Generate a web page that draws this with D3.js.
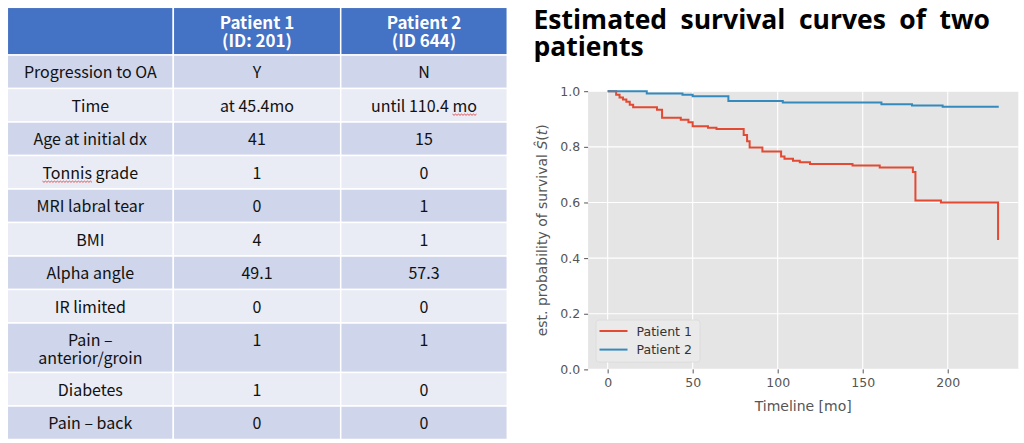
<!DOCTYPE html>
<html>
<head>
<meta charset="utf-8">
<script src="https://cdn.jsdelivr.net/npm/d3@7"></script>
<style>
body { margin: 0; background: #fff; }
svg { display: block; }
</style>
</head>
<body>
<svg id="chart" width="1024" height="443"></svg>
<script>
//Table data
const headers = ["", "Patient 1\n(ID: 201)", "Patient 2\n(ID 644)"];
const rowLabels = ["Progression to OA", "Time", "Age at initial dx", "Tonnis grade", "MRI labral tear",
    "BMI", "Alpha angle", "IR limited", "Pain \u2013\nanterior/groin", "Diabetes", "Pain \u2013 back"];
const patient1Info = ["Y", "at 45.4mo", "41", "1", "0", "4", "49.1", "0", "1", "1", "0"];
const patient2Info = ["N", "until 110.4 mo", "15", "0", "1", "1", "57.3", "0", "1", "0", "0"];

//Survival curves (time in months, estimated survival)
const p1Times = [0, 5, 7, 9, 11, 13, 15, 29, 32, 43, 47.5, 50, 59, 64, 80, 82, 83.5, 91, 102, 104, 109, 113, 119, 144, 160, 179.5, 181, 196, 229.6];
const p1Surv = [1.0, 0.987, 0.977, 0.970, 0.962, 0.951, 0.942, 0.933, 0.905, 0.897, 0.888, 0.874, 0.869, 0.864, 0.843, 0.820, 0.798, 0.783, 0.765, 0.757, 0.750, 0.745, 0.738, 0.733, 0.726, 0.710, 0.607, 0.600, 0.465];
const p2Times = [0, 23, 44, 50, 71, 103, 161, 179, 197, 230];
const p2Surv = [1.0, 0.992, 0.987, 0.982, 0.965, 0.959, 0.953, 0.949, 0.944, 0.944];
const seriesNames = ["Patient 1", "Patient 2"];
const xTicks = [0, 50, 100, 150, 200];
const yTicks = [0, 0.2, 0.4, 0.6, 0.8, 1.0];

const svg = d3.select("#chart");
const tableFont = "'Noto Sans CJK KR', 'Open Sans', sans-serif";
const titleFont = "'Open Sans', Roboto, sans-serif";
const plotFont = "'DejaVu Sans', sans-serif";

//---------- TABLE ----------
let colEdges = [7.3, 173.3, 340.7, 507.3];
let headerTop = 7.3, headerH = 47.7, rowH = 33.5, lineH = 18;

let table = svg.append("g").attr("id", "table");

//writes one or more lines inside a single text element
function multiLine(x, y, lines, dyStep) {
    let t = table.append("text").attr("x", x).attr("y", y).attr("text-anchor", "middle");
    lines.forEach((line, k) => {
        t.append("tspan").attr("x", x).attr("dy", k === 0 ? 0 : dyStep).text(line);
    });
    return t;
}

//header
headers.forEach((h, i) => {
    table.append("rect")
        .attr("x", colEdges[i]).attr("y", headerTop)
        .attr("width", colEdges[i + 1] - colEdges[i]).attr("height", headerH)
        .attr("fill", "#4472C4").attr("stroke", "#fff").attr("stroke-width", 1.5);
    if (!h) return;
    multiLine((colEdges[i] + colEdges[i + 1]) / 2, 29.3, h.split("\n"), 17.5)
        .style("font-family", tableFont).style("font-weight", "bold")
        .style("font-size", "17px").attr("fill", "#fff");
});

//body rows
let rowY = headerTop + headerH;
let textEls = {};
rowLabels.forEach((label, r) => {
    let lines = label.split("\n");
    let h = lines.length > 1 ? rowH + 16 : rowH;
    let cells = [lines, [patient1Info[r]], [patient2Info[r]]];
    let fill = r % 2 === 0 ? "#CFD5EA" : "#E9EBF5";
    cells.forEach((cellLines, i) => {
        table.append("rect")
            .attr("x", colEdges[i]).attr("y", rowY)
            .attr("width", colEdges[i + 1] - colEdges[i]).attr("height", h)
            .attr("fill", fill).attr("stroke", "#fff").attr("stroke-width", 1.5);
        let t = multiLine((colEdges[i] + colEdges[i + 1]) / 2, rowY + 23, cellLines, lineH)
            .style("font-family", tableFont).style("font-size", "16px")
            .attr("fill", "#111");
        textEls[cellLines.join(" ")] = t;
    });
    rowY += h;
});

//spell-check squiggles (as in the source slide)
function squiggle(textSel, start, count) {
    let node = textSel.node();
    let x0 = node.getStartPositionOfChar(start).x;
    let x1 = node.getEndPositionOfChar(start + count - 1).x;
    let y = +textSel.attr("y") + 3;
    let pts = d3.range(x0, x1, 1.5).map((x, i) => [x, y + (i % 2 ? 0.8 : -0.4)]);
    table.append("path").attr("d", d3.line()(pts))
        .attr("fill", "none").attr("stroke", "#e03030").attr("stroke-width", 0.8);
}
squiggle(textEls["Tonnis grade"], 0, 6);
squiggle(textEls["until 110.4 mo"], 12, 2);

//---------- TITLE ----------
let titleWords = ["Estimated", "survival", "curves", "of", "two"];
let titleLeft = 533.5, titleRight = 990;
let title = svg.append("g").attr("id", "title")
    .style("font-family", titleFont).style("font-weight", "bold").style("font-size", "26.5px");
let wordEls = titleWords.map(w => title.append("text").attr("y", 28.5).attr("fill", "#000").text(w));
let widths = wordEls.map(e => e.node().getComputedTextLength());
let gap = (titleRight - titleLeft - d3.sum(widths)) / (titleWords.length - 1);
let cx = titleLeft;
wordEls.forEach((e, i) => { e.attr("x", cx); cx += widths[i] + gap; });
title.append("text").attr("x", titleLeft).attr("y", 55.5).attr("fill", "#000").text("patients");

//---------- SURVIVAL PLOT ----------
let xScale = d3.scaleLinear().domain([-11.5, 241.5]).range([588.1, 1018.3]);
let yScale = d3.scaleLinear().domain([0, 1]).range([369.4, 91.2]);

let plot = svg.append("g").attr("id", "plot");
plot.append("rect")
    .attr("x", xScale.range()[0]).attr("y", yScale(1))
    .attr("width", xScale.range()[1] - xScale.range()[0])
    .attr("height", yScale(0) - yScale(1))
    .attr("fill", "#E5E5E5");

//gridlines
plot.selectAll(".vgrid").data(xTicks).enter().append("line")
    .attr("x1", d => xScale(d)).attr("x2", d => xScale(d))
    .attr("y1", yScale(0)).attr("y2", yScale(1))
    .attr("stroke", "#fff").attr("stroke-width", 1.1);
plot.selectAll(".hgrid").data(yTicks).enter().append("line")
    .attr("x1", xScale.range()[0]).attr("x2", xScale.range()[1])
    .attr("y1", d => yScale(d)).attr("y2", d => yScale(d))
    .attr("stroke", "#fff").attr("stroke-width", 1.1);

//curves
let series = [
    { name: seriesNames[0], color: "#E24A33", pts: p1Times.map((t, i) => [t, p1Surv[i]]) },
    { name: seriesNames[1], color: "#348ABD", pts: p2Times.map((t, i) => [t, p2Surv[i]]) }
];
let stepLine = d3.line().x(d => xScale(d[0])).y(d => yScale(d[1])).curve(d3.curveStepAfter);
plot.selectAll(".curve").data(series).enter().append("path")
    .attr("d", d => stepLine(d.pts))
    .attr("fill", "none").attr("stroke", d => d.color).attr("stroke-width", 2);

//axes
let xAxis = plot.append("g")
    .attr("transform", `translate(0, ${yScale(0)})`)
    .call(d3.axisBottom(xScale).tickValues(xTicks).tickSize(4).tickPadding(5));
let yAxis = plot.append("g")
    .attr("transform", `translate(${xScale.range()[0]}, 0)`)
    .call(d3.axisLeft(yScale).tickValues(yTicks).tickFormat(d3.format(".1f")).tickSize(4).tickPadding(4));
[xAxis, yAxis].forEach(a => {
    a.select(".domain").remove();
    a.selectAll("line").attr("stroke", "#555");
    a.selectAll("text").attr("fill", "#555").style("font-family", plotFont).style("font-size", "12.5px");
});

//axis labels
plot.append("text")
    .attr("x", (xScale.range()[0] + xScale.range()[1]) / 2).attr("y", 411)
    .attr("text-anchor", "middle").attr("fill", "#555")
    .style("font-family", plotFont).style("font-size", "14px")
    .text("Timeline [mo]");
let yLab = plot.append("text")
    .attr("transform", `translate(547, ${(yScale(0) + yScale(1)) / 2}) rotate(-90)`)
    .attr("text-anchor", "middle").attr("fill", "#555")
    .style("font-family", plotFont).style("font-size", "14px");
yLab.append("tspan").text("est. probability of survival ");
yLab.append("tspan").style("font-style", "italic").text("\u015C");
yLab.append("tspan").text("(");
yLab.append("tspan").style("font-style", "italic").text("t");
yLab.append("tspan").text(")");

//legend
let legend = plot.append("g").attr("transform", "translate(596, 320)");
legend.append("rect").attr("width", 104).attr("height", 42).attr("rx", 3)
    .attr("fill", "#EAEAEA").attr("stroke", "#DADADA").attr("stroke-width", 0.8);
series.forEach((s, i) => {
    let y = 11 + i * 18.6;
    legend.append("line").attr("x1", 3.5).attr("x2", 31.5).attr("y1", y).attr("y2", y)
        .attr("stroke", s.color).attr("stroke-width", 2);
    legend.append("text").attr("x", 40.5).attr("y", y).attr("dy", "0.36em")
        .attr("fill", "#333").style("font-family", plotFont).style("font-size", "12.5px")
        .text(s.name);
});
</script>
</body>
</html>
